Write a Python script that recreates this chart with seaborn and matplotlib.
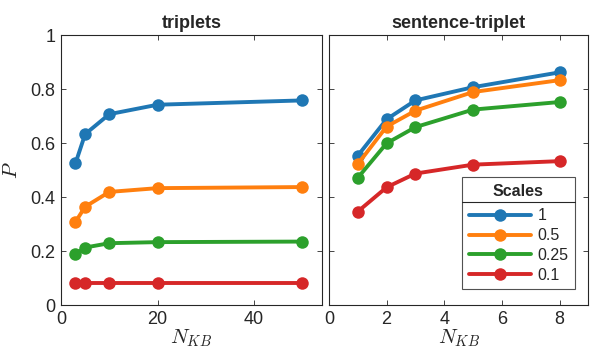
import matplotlib
matplotlib.use('Agg')
import matplotlib.pyplot as plt
from matplotlib.lines import Line2D
import seaborn as sns
import pandas as pd

scales = ['1', '0.5', '0.25', '0.1']
colors = ['#1f77b4', '#ff7f0e', '#2ca02c', '#d62728']

n_triplets = [3, 5, 10, 20, 50]
p_triplets = {
    '1': [0.525, 0.633, 0.707, 0.742, 0.758],
    '0.5': [0.308, 0.364, 0.419, 0.433, 0.437],
    '0.25': [0.189, 0.213, 0.229, 0.233, 0.235],
    '0.1': [0.080, 0.080, 0.080, 0.080, 0.080],
}

n_sentence = [1, 2, 3, 5, 8]
p_sentence = {
    '1': [0.553, 0.688, 0.758, 0.807, 0.862],
    '0.5': [0.522, 0.661, 0.720, 0.789, 0.833],
    '0.25': [0.471, 0.599, 0.659, 0.724, 0.752],
    '0.1': [0.346, 0.436, 0.487, 0.520, 0.533],
}


def long_form(ns, ps):
    rows = []
    for s in scales:
        for n, p in zip(ns, ps[s]):
            rows.append({'N': n, 'P': p, 'Scales': s})
    return pd.DataFrame(rows)


sns.set_style('ticks')
plt.rcParams['font.family'] = ['Liberation Sans', 'DejaVu Sans']
plt.rcParams['mathtext.fontset'] = 'cm'
plt.rcParams['xtick.direction'] = 'in'
plt.rcParams['ytick.direction'] = 'in'
plt.rcParams['xtick.top'] = True
plt.rcParams['ytick.right'] = True
plt.rcParams['axes.edgecolor'] = '#262626'
plt.rcParams['axes.linewidth'] = 0.8

fig = plt.figure(figsize=(5.98, 3.58), dpi=100)
ax1 = fig.add_axes([0.102, 0.148, 0.436, 0.754])
ax2 = fig.add_axes([0.550, 0.148, 0.434, 0.754])

palette = dict(zip(scales, colors))
for ax, ns, ps, title, xlim, xt in [
        (ax1, n_triplets, p_triplets, 'triplets', (0, 54), [0, 20, 40]),
        (ax2, n_sentence, p_sentence, 'sentence-triplet', (0, 9), [0, 2, 4, 6, 8])]:
    df = long_form(ns, ps)
    sns.lineplot(data=df, x='N', y='P', hue='Scales', hue_order=scales,
                 palette=palette, marker='o', markersize=9, linewidth=2.8,
                 markeredgewidth=0, ax=ax, legend=(ax is ax2))
    ax.set_xlim(*xlim)
    ax.set_ylim(0, 1)
    ax.set_xticks(xt)
    ax.set_yticks([0, 0.2, 0.4, 0.6, 0.8, 1])
    ax.set_title(title, fontsize=13, fontweight='bold', pad=5)
    ax.set_xlabel('$N_{KB}$', fontsize=15, labelpad=0)
    ax.tick_params(labelsize=13, length=3.5, width=0.6, colors='#262626', pad=4)
    for sp in ax.spines.values():
        sp.set_visible(True)

ax1.set_yticklabels(['0', '0.2', '0.4', '0.6', '0.8', '1'])
ax1.set_ylabel('$P$', fontsize=15, labelpad=7)
ax2.set_ylabel('')
ax2.set_yticklabels([])

leg = ax2.legend(title='Scales', loc='lower right', bbox_to_anchor=(0.947, 0.059),
                 borderaxespad=0, frameon=True, fancybox=False, edgecolor='#262626',
                 fontsize=11.5, title_fontproperties={'weight': 'bold', 'size': 11.5},
                 handlelength=3.9, handletextpad=0.4, borderpad=0.4,
                 labelspacing=0.3)
leg.get_frame().set_linewidth(0.8)
leg._legend_box.sep = 7

fig.canvas.draw()
bb = leg.get_window_extent()
tb = leg.get_title().get_window_extent()
y = tb.y0 - 3.5
fig.add_artist(Line2D([bb.x0, bb.x1], [y, y], transform=None,
                      color='#262626', linewidth=0.8))

fig.savefig('out.png', dpi=100)
